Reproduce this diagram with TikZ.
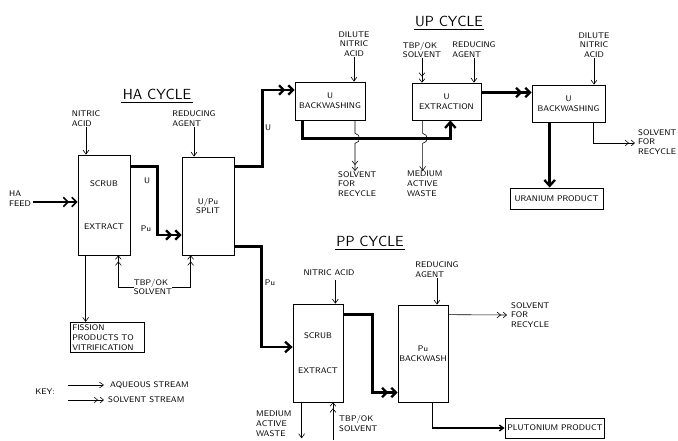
\documentclass[tikz,border=0pt]{standalone}
\usetikzlibrary{arrows.meta, positioning, calc}

\newcommand{\lblfont}{\sffamily\fontsize{7}{8.3}\selectfont}
\newcommand{\ttlfont}{\sffamily\fontsize{12.5}{14}\selectfont}

\begin{document}
\begin{tikzpicture}[
    x=0.03cm, y=-0.03cm,
    unit/.style={rectangle, draw, line width=0.6pt, font=\lblfont, align=center, inner sep=1pt},
    prodbox/.style={rectangle, draw, line width=0.8pt, font=\lblfont, inner sep=2pt},
    lbl/.style={font=\lblfont, align=left, inner sep=0pt},
    ttl/.style={font=\ttlfont, inner sep=1pt},
    aq/.style={-{Straight Barb[length=3.5pt, width=5pt]}, line width=0.5pt},
    sv/.style={-{Straight Barb[length=3pt, width=5pt, sep=1.5pt] Straight Barb[length=3pt, width=5pt]}, line width=0.5pt},
    maq/.style={-{Straight Barb[length=5pt, width=9pt]}, line width=2pt},
    msv/.style={-{Straight Barb[length=4pt, width=8pt, sep=1.5pt] Straight Barb[length=4pt, width=8pt]}, line width=2pt},
  ]
  \useasboundingbox (0,0) rectangle (678,440);

  % Titles
  \node[ttl] (hatitle) at (157,94) {HA CYCLE};
  \node[ttl] (uptitle) at (449,21) {UP CYCLE};
  \node[ttl] (pptitle) at (370,241) {PP CYCLE};
  \foreach \t in {hatitle, uptitle, pptitle}
    \draw[line width=0.8pt] ([yshift=-1.5pt] \t.south west) -- ([yshift=-1.5pt] \t.south east);

  % Process units
  \node[unit, minimum width=1.56cm, minimum height=3cm] (hascrub) at (104,205) {SCRUB\\[28pt]EXTRACT};
  \node[unit, minimum width=1.56cm, minimum height=2.94cm] (hasplit) at (208,206) {U/Pu\\SPLIT};
  \node[unit, minimum width=2.1cm, minimum height=1.14cm] (ubw1) at (330,101) {U\\BACKWASHING};
  \node[unit, minimum width=2.07cm, minimum height=1.11cm] (uext) at (446.5,101.5) {U\\EXTRACTION};
  \node[unit, minimum width=2.19cm, minimum height=1.11cm] (ubw2) at (568.5,103.5) {U\\BACKWASHING};
  \node[unit, minimum width=1.5cm, minimum height=2.94cm] (ppscrub) at (318,353) {SCRUB\\[22pt]EXTRACT};
  \node[unit, minimum width=1.5cm, minimum height=2.91cm] (pubw) at (423,353.5) {Pu\\BACKWASH};
  \foreach \b in {hascrub, hasplit, ubw1, uext, ubw2, ppscrub, pubw}
    \draw[line width=1.4pt] (\b.north east) -- (\b.south east) -- (\b.south west);

  % Products
  \node[prodbox, minimum width=2.79cm, minimum height=0.63cm] (uprod) at (556.5,198.5) {URANIUM PRODUCT};
  \node[prodbox, minimum width=2.82cm, minimum height=0.6cm] (puprod) at (555,428) {PLUTONIUM PRODUCT};
  \node[prodbox, align=left, text width=2.08cm] (fission) at (107,337.5) {FISSION\\PRODUCTS TO\\VITRIFICATION};

  % Stream labels
  \node[lbl, anchor=west] (hafeed) at (9,199) {HA\\FEED};
  \node[lbl] (nitric1) at (86,119) {NITRIC\\ACID};
  \node[lbl] (redag1) at (194,119) {REDUCING\\AGENT};
  \node[lbl] (tbp1) at (153,287) {TBP/OK\\SOLVENT};
  \node[lbl, align=center] (dil1) at (354,44) {DILUTE\\NITRIC\\ACID};
  \node[lbl] (tbp2) at (422,50) {TBP/OK\\SOLVENT};
  \node[lbl] (redag2) at (474,50) {REDUCING\\AGENT};
  \node[lbl, align=center] (dil2) at (594,45) {DILUTE\\NITRIC\\ACID};
  \node[lbl, anchor=north west] (solv1) at (338,171) {SOLVENT\\FOR\\RECYCLE};
  \node[lbl, anchor=north west] (maw1) at (407,171) {MEDIUM\\ACTIVE\\WASTE};
  \node[lbl, anchor=west] (solv2) at (638,142) {SOLVENT\\FOR\\RECYCLE};
  \node[lbl] (nitric3) at (329,273) {NITRIC ACID};
  \node[lbl] (redag3) at (437,270) {REDUCING\\AGENT};
  \node[lbl, anchor=west] (solv3) at (511,315) {SOLVENT\\FOR\\RECYCLE};
  \node[lbl, anchor=north west] (maw2) at (256,411) {MEDIUM\\ACTIVE\\WASTE};
  \node[lbl, anchor=north west] (tbp3) at (339,415) {TBP/OK\\SOLVENT};
  \node[lbl] (lu1) at (147,181) {U};
  \node[lbl] (lpu1) at (146,229) {Pu};
  \node[lbl] (lu2) at (268,128) {U};
  \node[lbl] (lpu2) at (270,283) {Pu};

  % HA cycle
  \coordinate (hf) at ($(hafeed.east)+(2,3)$);
  \draw[msv, line width=1.4pt] (hf) -- (hf -| hascrub.west);
  \draw[aq] (nitric1.south) -- (nitric1.south |- hascrub.north);
  \draw[aq] (redag1.south) -- (redag1.south |- hasplit.north);
  \draw[msv] ($(hascrub.north east)+(0,12)$) -| ($(hascrub.east)+(27,30)$) -- ($(hasplit.west)+(0,29)$);
  \draw[sv] (tbp1.west) -| ($(hascrub.south east)+(-12,0)$);
  \draw[sv] (tbp1.east) -| ($(hasplit.south west)+(9,0)$);
  \coordinate (fs) at ($(hascrub.south west)+(8,0)$);
  \draw[aq] (fs) -- (fs |- fission.north);

  % to UP and PP cycles
  \draw[msv] ($(hasplit.north east)+(0,10)$) -| ($(ubw1.west)+(-32,-11)$) -- ($(ubw1.west)+(0,-11)$);
  \draw[maq] ($(hasplit.south east)+(0,-9)$) -| ($(ppscrub.west)+(-31,-6)$) -- ($(ppscrub.west)+(0,-6)$);

  % UP cycle
  \draw[aq] (dil1.south) -- (dil1.south |- ubw1.north);
  \draw[sv] (tbp2.south) -- (tbp2.south |- uext.north);
  \draw[aq] (redag2.south) -- (redag2.south |- uext.north);
  \draw[aq] (dil2.south) -- (dil2.south |- ubw2.north);
  \draw[maq] ($(ubw1.south west)+(8,0)$) |- ($(uext.south east)+(-31,18)$) -- ($(uext.south east)+(-31,0)$);
  \coordinate (h1) at ($(ubw1.south)+(25,0)$);
  \draw[sv] (h1) -- ++(0,13) .. controls +(6,1) and +(6,-1) .. ++(0,10) -- (h1 |- solv1.north);
  \coordinate (h2) at ($(uext.south west)+(11,0)$);
  \draw[aq] (h2) -- ++(0,13) .. controls +(6,1) and +(6,-1) .. ++(0,10) -- (h2 |- maw1.north);
  \draw[msv] ($(uext.east)+(0,-9)$) -- ($(ubw2.west)+(0,-11)$);
  \coordinate (ub) at ($(ubw2.south west)+(18,0)$);
  \draw[maq] (ub) -- (ub |- uprod.north);
  \draw[sv] ($(ubw2.south east)+(-12,0)$) |- ($(solv2.west)+(-3,1)$);

  % PP cycle
  \coordinate (n3) at ($(ppscrub.north east)+(-8,-24)$);
  \draw[aq] (n3) -- (n3 |- ppscrub.north);
  \draw[aq] (redag3.south) -- (redag3.south |- pubw.north);
  \draw[msv] ($(ppscrub.north east)+(0,11)$) -| ($(pubw.west)+(-25,39)$) -- ($(pubw.west)+(0,39)$);
  \draw[sv] ($(pubw.north east)+(0,10)$) -- ($(solv3.west)+(-4,0)$);
  \draw[aq, line width=1.2pt] ($(pubw.south west)+(35,0)$) |- (puprod.west);
  \coordinate (m2) at ($(ppscrub.south west)+(9,0)$);
  \draw[aq] (m2) -- ++(0,36);
  \coordinate (t3) at (333,440);
  \draw[sv] (t3) -- (t3 |- ppscrub.south);

  % Key
  \node[lbl] (key) at (45,392) {KEY:};
  \node[lbl, anchor=west] (kaq) at (110,385) {AQUEOUS STREAM};
  \node[lbl, anchor=west] (ksv) at (108,400) {SOLVENT STREAM};
  \draw[aq] ($(kaq.west)+(-42,0)$) -- ($(kaq.west)+(-6,0)$);
  \draw[sv] ($(ksv.west)+(-40,0)$) -- ($(ksv.west)+(-4,0)$);

\end{tikzpicture}
\end{document}
